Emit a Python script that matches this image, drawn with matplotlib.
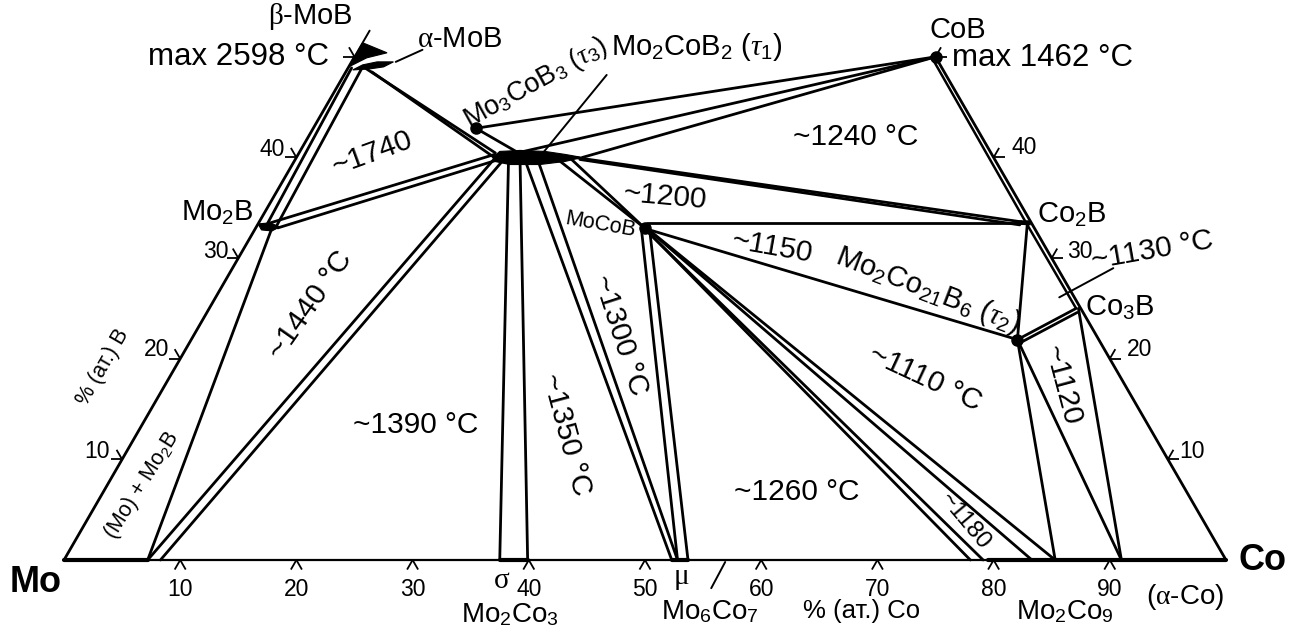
import numpy as np
import matplotlib
matplotlib.use("Agg")
import matplotlib.pyplot as plt
from matplotlib.patches import Polygon

plt.rcParams["font.family"] = ["Liberation Sans", "DejaVu Sans"]
plt.rcParams["mathtext.fontset"] = "custom"
plt.rcParams["mathtext.rm"] = "Liberation Sans"
plt.rcParams["mathtext.it"] = "Liberation Serif:italic"
plt.rcParams["mathtext.sf"] = "Liberation Serif"

# all compositions are (at.% Co, at.% B)

co_ticks = [10, 20, 30, 40, 50, 60, 70, 80, 90]
b_ticks = [10, 20, 30, 40]

# CoB, Mo3CoB3, MoCoB, Mo2Co21B6
dot_co = [50.0, 14.0, 33.5, 71.1]
dot_b = [50.0, 42.9, 33.0, 21.9]

# co1, b1, co2, b2
tie_lines = [
    # Mo2B - MoB
    (0.8, 33.2, 0.3, 48.9), (1.7, 33.0, 1.2, 48.9),
    # Mo2B - (Mo)
    (1.4, 33.0, 7.2, 0.0),
    # Mo2B - Mo2CoB2
    (1.0, 33.5, 16.9, 40.3), (1.9, 33.0, 17.3, 39.7),
    # MoB - Mo2CoB2
    (1.45, 48.9, 16.9, 40.45), (2.25, 48.5, 17.2, 39.9),
    # Mo2CoB2 - (Mo)
    (17.15, 40.05, 7.2, 0.0), (17.9, 39.6, 8.3, 0.0),
    # Mo2CoB2 - sigma
    (18.5, 39.5, 37.5, 0.0), (19.5, 39.5, 39.9, 0.0),
    # Mo2CoB2 - mu
    (20.0, 39.5, 52.3, 0.0), (21.1, 39.5, 52.8, 0.0),
    # Mo2CoB2 - MoCoB
    (22.6, 39.8, 33.3, 33.1), (23.5, 40.0, 33.6, 32.9),
    # Mo2CoB2 - Co2B
    (24.0, 40.0, 65.6, 33.6), (24.5, 39.8, 65.6, 33.3),
    # Mo2CoB2 - CoB
    (18.6, 40.4, 50.0, 50.0), (24.6, 40.0, 50.0, 50.0),
    # Mo3CoB3 - CoB, Mo3CoB3 - Mo2CoB2
    (14.0, 42.9, 50.0, 50.0), (14.0, 42.9, 19.2, 40.3),
    # MoCoB - mu
    (33.3, 32.8, 52.8, 0.0), (34.0, 32.8, 53.7, 0.0),
    # MoCoB - Co2B, MoCoB - Mo2Co21B6
    (33.4, 33.5, 66.2, 33.5), (34.0, 32.8, 71.1, 21.9),
    # MoCoB - Mo2Co9 / (Co)
    (33.7, 32.8, 78.0, 0.0), (33.8, 32.7, 79.1, 0.0),
    (33.9, 32.8, 83.3, 0.0), (34.1, 32.7, 85.3, 0.0),
    # Mo2Co21B6 - Co2B, Co3B, base
    (71.1, 21.9, 66.2, 33.4),
    (71.1, 21.9, 74.6, 25.0), (71.4, 21.5, 74.9, 24.6),
    (71.1, 21.9, 85.3, 0.0), (71.1, 21.9, 91.0, 0.0),
    # Co3B - (Co)
    (74.8, 25.0, 91.0, 0.0),
]

# inner line along the Co-B side (CoB - Co2B - Co3B)
inner_co = [49.65, 66.05, 74.5]
inner_b = [50.0, 33.5, 25.1]

# thicker stretches of the Mo-Co side (solid solutions)
heavy_base = [(0.0, 7.2), (37.5, 39.9), (52.3, 53.7), (79.5, 100.0)]

# leader lines: co1, b1, co2, b2
leaders = [
    (0.0, 50.0, 0.0, 52.6),      # beta-MoB
    (3.8, 49.5, 5.5, 50.7),      # alpha-MoB
    (21.0, 40.5, 22.6, 48.2),    # Mo2CoB2
    (72.6, 26.1, 75.8, 29.0),    # ~1130
    (57.0, -0.2, 57.1, -2.8),    # Mo6Co7
]

# black homogeneity regions (polygon outlines)
beta_mob = [(0.0, 49.0), (0.0, 51.4), (2.6, 50.4), (1.1, 49.9)]
alpha_mob = [(0.5, 48.7), (1.1, 49.2), (2.2, 49.5), (3.6, 49.5), (3.0, 49.0), (1.9, 48.8)]
mo2b = [(0.0, 33.4), (1.0, 33.5), (2.0, 33.1), (1.55, 32.7), (0.6, 32.8)]
mo2cob2 = [(16.9, 40.0), (17.2, 40.6), (18.9, 40.7), (21.1, 40.6), (23.0, 40.3),
           (24.6, 40.0), (23.3, 39.6), (21.3, 39.3), (18.7, 39.3), (17.3, 39.6)]
co2b = [(65.0, 33.7), (66.3, 33.7), (66.5, 33.3), (65.1, 33.4)]


def tern(co, b):
    co = np.asarray(co, dtype=float)
    b = np.asarray(b, dtype=float)
    return (co + b / 2) / 100, b / 100 * np.sqrt(3) / 2


def pix(px, py):
    # label placement helper, picture pixels -> axes units
    return (px - 64) / 1162, (560 - py) / 1162


def seg(ax, co1, b1, co2, b2, lw=2.0):
    x, y = tern([co1, co2], [b1, b2])
    ax.plot(x, y, color="black", lw=lw, solid_capstyle="round")


def tick(ax, co, b, angles, size=0.0095):
    x0, y0 = tern(co, b)
    for a in angles:
        r = np.radians(a)
        ax.plot([x0, x0 + size * np.cos(r)], [y0, y0 + size * np.sin(r)],
                color="black", lw=1.3, solid_capstyle="butt")


def blob(ax, pts):
    x, y = tern([p[0] for p in pts], [p[1] for p in pts])
    ax.add_patch(Polygon(np.column_stack([x, y]), closed=True,
                         facecolor="black", edgecolor="black", lw=0.8))


fig = plt.figure(figsize=(12.98, 6.37), dpi=100)
ax = fig.add_axes([0, 0, 1, 1])
ax.set_xlim(-64 / 1162, 1234 / 1162)
ax.set_ylim(-77 / 1162, 560 / 1162)
ax.axis("off")

# triangle sides
seg(ax, 0, 0, 100, 0, lw=1.6)
seg(ax, 0, 0, 0, 50, lw=2.0)
seg(ax, 50, 50, 100, 0, lw=2.0)
for c1, c2 in heavy_base:
    seg(ax, c1, 0, c2, 0, lw=3.0)
x, y = tern(inner_co, inner_b)
ax.plot(x, y, color="black", lw=1.8)

for t in tie_lines:
    seg(ax, *t)
for t in leaders:
    seg(ax, *t, lw=1.4)

for shape in (beta_mob, alpha_mob, mo2b, mo2cob2, co2b):
    blob(ax, shape)

x, y = tern(dot_co, dot_b)
ax.plot(x, y, "o", color="black", ms=8, zorder=5)

# ticks
for c in co_ticks:
    tick(ax, c, 0, [-60, -120])
for b in b_ticks + [50]:
    tick(ax, 0, b, [180, 120])
for b in b_ticks + [50]:
    tick(ax, 100 - b, b, [0, 60])

kw = dict(ha="center", va="center")
TS = 21.5   # temperature labels
PS = 21     # phase labels
NS = 16.5   # tick numbers

# corner labels
ax.text(*pix(36, 582), "Mo", fontsize=26, fontweight="bold", **kw)
ax.text(*pix(1263, 560), "Co", fontsize=26, fontweight="bold", **kw)

# tick labels
for c in co_ticks:
    xx, _ = tern(c, 0)
    ax.text(xx, pix(0, 590)[1], str(c), fontsize=NS, **kw)
for b, (px, py) in zip(b_ticks, [(97, 452), (157, 350), (216, 252), (272, 150)]):
    ax.text(*pix(px, py), str(b), fontsize=NS, **kw)
for b, (px, py) in zip(b_ticks, [(1192, 451), (1140, 349), (1080, 252), (1024, 148)]):
    ax.text(*pix(px, py), str(b), fontsize=NS, **kw)

# phases
ax.text(*pix(310, 16), r"$\mathsf{\beta}$-MoB", fontsize=PS, **kw)
ax.text(*pix(238, 57), "max 2598 °C", fontsize=22.5, **kw)
ax.text(*pix(460, 39), r"$\mathsf{\alpha}$-MoB", fontsize=PS, **kw)
ax.text(*pix(536, 83), r"Mo$_3$CoB$_3$ ($\tau_3$)", fontsize=19.5, rotation=29, **kw)
ax.text(*pix(697, 47), r"Mo$_2$CoB$_2$ ($\tau_1$)", fontsize=PS, **kw)
ax.text(*pix(958, 30), "CoB", fontsize=PS, **kw)
ax.text(*pix(1043, 58), "max 1462 °C", fontsize=22.5, **kw)
ax.text(*pix(217, 213), r"Mo$_2$B", fontsize=PS, **kw)
ax.text(*pix(600, 225), "MoCoB", fontsize=15.5, rotation=-10, **kw)
ax.text(*pix(1072, 215), r"Co$_2$B", fontsize=PS, **kw)
ax.text(*pix(928, 290), r"Mo$_2$Co$_{21}$B$_6$ ($\tau_2$)", fontsize=PS, rotation=-21, **kw)
ax.text(*pix(1120, 308), r"Co$_3$B", fontsize=PS, **kw)
ax.text(*pix(103, 367), "% (ат.) B", fontsize=15.5, rotation=60, **kw)
ax.text(*pix(142, 485), r"(Mo) + Mo$_2$B", fontsize=15.5, rotation=58, **kw)
ax.text(*pix(502, 580), r"$\mathsf{\sigma}$", fontsize=PS, **kw)
ax.text(*pix(681, 578), r"$\mathsf{\mu}$", fontsize=PS, **kw)
ax.text(*pix(510, 615), r"Mo$_2$Co$_3$", fontsize=20, **kw)
ax.text(*pix(710, 612), r"Mo$_6$Co$_7$", fontsize=20, **kw)
ax.text(*pix(862, 611), "% (ат.) Co", fontsize=18.5, **kw)
ax.text(*pix(1065, 612), r"Mo$_2$Co$_9$", fontsize=20, **kw)
ax.text(*pix(1185, 597), r"($\mathsf{\alpha}$-Co)", fontsize=20, **kw)

# temperatures of the invariant reactions
ax.text(*pix(856, 137), "~1240 °C", fontsize=TS, **kw)
ax.text(*pix(372, 153), "~1740", fontsize=TS, rotation=20, **kw)
ax.text(*pix(665, 197), "~1200", fontsize=TS, rotation=-5, **kw)
ax.text(*pix(772, 247), "~1150", fontsize=TS, rotation=-10, **kw)
ax.text(*pix(1152, 250), "~1130 °C", fontsize=TS, rotation=10, **kw)
ax.text(*pix(1062, 385), "~1120", fontsize=TS, rotation=-75, **kw)
ax.text(*pix(925, 378), "~1110 °C", fontsize=TS, rotation=-25, **kw)
ax.text(*pix(965, 522), "~1180", fontsize=17.5, rotation=-50, **kw)
ax.text(*pix(797, 492), "~1260 °C", fontsize=TS, **kw)
ax.text(*pix(416, 425), "~1390 °C", fontsize=TS, **kw)
ax.text(*pix(566, 435), "~1350 °C", fontsize=TS, rotation=-75, **kw)
ax.text(*pix(620, 335), "~1300 °C", fontsize=TS, rotation=-72, **kw)
ax.text(*pix(310, 305), "~1440 °C", fontsize=TS, rotation=55, **kw)

fig.savefig("out.png", dpi=100)
